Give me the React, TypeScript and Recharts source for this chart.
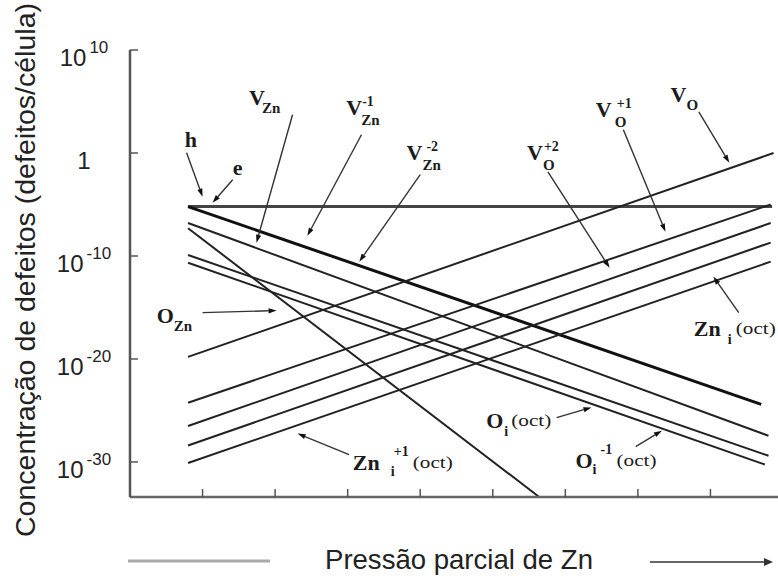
import { LineChart, Line, XAxis, YAxis, ReferenceLine, ReferenceDot } from "recharts";

// log10 of defect concentration (defects per cell) against Zn partial pressure (arbitrary units)
const holesElectrons = [{ x: 0.8, y: -5.2 }, { x: 8.85, y: -5.2 }];
const vZnCharged = [{ x: 0.8, y: -5.2 }, { x: 8.7, y: -24.4 }];
const vZn = [{ x: 0.8, y: -6.8 }, { x: 8.8, y: -27.45 }];
const oZn = [{ x: 0.8, y: -7.3 }, { x: 5.64, y: -33.4 }];
const oI = [{ x: 0.8, y: -9.9 }, { x: 8.8, y: -29.4 }];
const oIMinus1 = [{ x: 0.8, y: -10.65 }, { x: 8.75, y: -30.25 }];
const vO = [{ x: 0.8, y: -19.8 }, { x: 8.87, y: 0.0 }];
const vOPlus1 = [{ x: 0.8, y: -24.25 }, { x: 8.83, y: -5.0 }];
const vOPlus2 = [{ x: 0.8, y: -26.5 }, { x: 8.83, y: -6.8 }];
const znI = [{ x: 0.8, y: -28.4 }, { x: 8.83, y: -8.7 }];
const znIPlus1 = [{ x: 0.8, y: -30.1 }, { x: 8.83, y: -10.55 }];

const yTicks = [10, 0, -10, -20, -30];
const xTicks = [1, 2, 3, 4, 5, 6, 7, 8];

const series = [
  { key: "he", data: holesElectrons, stroke: "#444", width: 3 },
  { key: "vzn2", data: vZnCharged, stroke: "#111", width: 3 },
  { key: "vzn", data: vZn, stroke: "#222", width: 2 },
  { key: "ozn", data: oZn, stroke: "#222", width: 2 },
  { key: "oi", data: oI, stroke: "#222", width: 2 },
  { key: "oi1", data: oIMinus1, stroke: "#222", width: 2 },
  { key: "vo", data: vO, stroke: "#222", width: 2 },
  { key: "vo1", data: vOPlus1, stroke: "#222", width: 2 },
  { key: "vo2", data: vOPlus2, stroke: "#222", width: 2 },
  { key: "zni", data: znI, stroke: "#222", width: 2 },
  { key: "zni1", data: znIPlus1, stroke: "#222", width: 2 },
];

// defect labels: left/baseline anchor in data units, offsets in px
const tags = [
  { x: 0.755, y: 0.61, main: "h" },
  { x: 1.415, y: -2.1, main: "e" },
  { x: 1.64, y: 4.69, main: "V", sub: "Zn", subDx: 13 },
  { x: 2.98, y: 3.71, main: "V", sup: "-1", sub: "Zn", subDx: 15, supDx: 16 },
  { x: 3.81, y: -0.65, main: "V", sup: "-2", sub: "Zn", subDx: 16, supDx: 20 },
  { x: 5.47, y: -0.65, main: "V", sup: "+2", sub: "O", subDx: 16, supDx: 17 },
  { x: 6.42, y: 3.52, main: "V", sup: "+1", sub: "O", subDx: 19, supDx: 21 },
  { x: 7.45, y: 4.98, main: "V", sub: "O", subDx: 16 },
  { x: 0.367, y: -16.5, main: "O", sub: "Zn", subDx: 17 },
  { x: 3.07, y: -30.75, main: "Zn", sub: "i", sup: "+1", tail: "(oct)", subDx: 38, supDx: 41, tailDx: 60 },
  { x: 7.77, y: -17.8, main: "Zn", sub: "i", tail: "(oct)", subDx: 34, tailDx: 42 },
  { x: 4.91, y: -26.67, main: "O", sub: "i", tail: "(oct)", subDx: 18, tailDx: 25 },
  { x: 6.14, y: -30.55, main: "O", sub: "i", sup: "-1", tail: "(oct)", subDx: 17, supDx: 25, tailDx: 41 },
];

const pointers = [
  { from: { x: 0.78, y: 0.03 }, to: { x: 1.0, y: -4.24 } },
  { from: { x: 1.415, y: -2.59 }, to: { x: 1.138, y: -4.83 } },
  { from: { x: 2.24, y: 3.71 }, to: { x: 1.743, y: -8.71 } },
  { from: { x: 3.19, y: 1.77 }, to: { x: 2.445, y: -8.04 } },
  { from: { x: 4.0, y: -2.1 }, to: { x: 3.16, y: -10.55 } },
  { from: { x: 5.76, y: -1.83 }, to: { x: 6.61, y: -11.14 } },
  { from: { x: 6.8, y: 2.26 }, to: { x: 7.38, y: -7.64 } },
  { from: { x: 7.84, y: 4.0 }, to: { x: 8.26, y: -0.94 } },
  { from: { x: 1.0, y: -15.5 }, to: { x: 2.02, y: -15.3 } },
  { from: { x: 3.02, y: -29.28 }, to: { x: 2.31, y: -27.24 } },
  { from: { x: 8.39, y: -15.5 }, to: { x: 8.04, y: -12.0 } },
  { from: { x: 5.88, y: -25.7 }, to: { x: 6.36, y: -24.7 } },
  { from: { x: 6.97, y: -28.5 }, to: { x: 7.33, y: -26.96 } },
];

const SANS = "'Liberation Sans', Arial, sans-serif";
const SERIF = "'Liberation Serif', 'Times New Roman', serif";
const INK = "#1c1c1c";

function PowerTick(props: any) {
  const { x, y, payload } = props;
  const exp = payload.value as number;
  return (
    <g>
      <line x1={x} y1={y} x2={x + 8} y2={y} stroke="#555" strokeWidth={1.5} />
      <text x={x - 46} y={y + 16} textAnchor="middle" fontFamily={SANS} fontSize={24} fill="#222">
        {exp === 0 ? (
          "1"
        ) : (
          <>
            10
            <tspan dx={3} dy={-13} fontSize={17}>
              {exp}
            </tspan>
          </>
        )}
      </text>
    </g>
  );
}

function BottomTick(props: any) {
  const { x, y } = props;
  return <line x1={x} y1={y} x2={x} y2={y - 8} stroke="#555" strokeWidth={1.5} />;
}

function TopTick(props: any) {
  const { x, y } = props;
  return <line x1={x} y1={y} x2={x} y2={y + 8} stroke="#777" strokeWidth={1.5} />;
}

function PressureTitle(props: any) {
  const vb = props.viewBox || { x: 130, y: 497 };
  const base = vb.y + 72;
  const lineY = vb.y + 64;
  const ax = vb.x + 643;
  return (
    <g>
      <line x1={vb.x - 2} y1={lineY} x2={vb.x + 140} y2={lineY} stroke="#aaa" strokeWidth={3} />
      <text x={vb.x + 195} y={base} fontFamily={SANS} fontSize={28} fill="#222" textLength={268} lengthAdjust="spacingAndGlyphs">
        Pressão parcial de Zn
      </text>
      <line x1={vb.x + 520} y1={lineY + 1} x2={ax - 6} y2={lineY + 1} stroke="#666" strokeWidth={2} />
      <polygon points={`${ax},${lineY + 1} ${ax - 9},${lineY - 3} ${ax - 9},${lineY + 5}`} fill="#333" />
    </g>
  );
}

function ConcentrationTitle(props: any) {
  const vb = props.viewBox || { x: 0, y: 50 };
  const cx = vb.x + 35;
  const cy = vb.y + 220;
  return (
    <text
      x={cx}
      y={cy}
      transform={`rotate(-90, ${cx}, ${cy})`}
      textAnchor="middle"
      fontFamily={SANS}
      fontSize={28}
      fill="#222"
      textLength={534}
      lengthAdjust="spacingAndGlyphs"
    >
      Concentração de defeitos (defeitos/célula)
    </text>
  );
}

function DefectTag({ cx, cy, t }: any) {
  const bold = { fontFamily: SERIF, fontWeight: 700, fill: INK };
  const stacked = t.sub && t.sup;
  const iStack = stacked && t.sub === "i";
  const supY = iStack ? cy - 14 : stacked ? cy - 9 : cy - 11;
  const subY = iStack ? cy + 6 : stacked ? cy + 10 : cy + 8;
  return (
    <g>
      <text x={cx} y={cy} fontSize={22} {...bold}>
        {t.main}
      </text>
      {t.sup && (
        <text x={cx + t.supDx} y={supY} fontSize={14} {...bold}>
          {t.sup}
        </text>
      )}
      {t.sub && (
        <text x={cx + t.subDx} y={subY} fontSize={t.sub === "i" ? 14 : 15} {...bold}>
          {t.sub}
        </text>
      )}
      {t.tail && (
        <text
          x={cx + t.tailDx}
          y={cy - 2}
          fontSize={16}
          fontFamily={SERIF}
          fill={INK}
          textLength={40}
          lengthAdjust="spacingAndGlyphs"
        >
          {t.tail}
        </text>
      )}
    </g>
  );
}

function Pointer(props: any) {
  const { x1, y1, x2, y2 } = props;
  const dx = x2 - x1;
  const dy = y2 - y1;
  const len = Math.hypot(dx, dy) || 1;
  const ux = dx / len;
  const uy = dy / len;
  const bx = x2 - ux * 8;
  const by = y2 - uy * 8;
  const px = -uy * 2.6;
  const py = ux * 2.6;
  return (
    <g>
      <line x1={x1} y1={y1} x2={bx} y2={by} stroke="#333" strokeWidth={1.4} />
      <polygon points={`${x2},${y2} ${bx + px},${by + py} ${bx - px},${by - py}`} fill="#111" />
    </g>
  );
}

export default function App() {
  return (
    <div
      style={{
        position: "absolute",
        left: 0,
        top: 0,
        width: 778,
        height: 580,
        overflow: "hidden",
        background: "#fff",
      }}
    >
      <LineChart width={790} height={580} margin={{ top: 50, right: 7, bottom: 0, left: 0 }}>
        <XAxis
          type="number"
          dataKey="x"
          domain={[0, 9]}
          ticks={xTicks}
          height={83}
          tickSize={0}
          tickMargin={0}
          tick={<BottomTick />}
          tickLine={false}
          axisLine={{ stroke: "#666", strokeWidth: 2.5 }}
          label={<PressureTitle />}
        />
        <XAxis
          xAxisId="top"
          orientation="top"
          type="number"
          dataKey="x"
          domain={[0, 9]}
          ticks={xTicks}
          height={0}
          tickSize={0}
          tickMargin={0}
          tick={<TopTick />}
          tickLine={false}
          axisLine={{ stroke: "#888", strokeWidth: 2.5 }}
        />
        <YAxis
          type="number"
          domain={[-33.4, 10]}
          ticks={yTicks}
          width={130}
          tickSize={0}
          tickMargin={0}
          tick={<PowerTick />}
          tickLine={false}
          allowDataOverflow
          axisLine={{ stroke: "#555", strokeWidth: 2.5 }}
          label={<ConcentrationTitle />}
        />
        {series.map((s) => (
          <Line
            key={s.key}
            data={s.data}
            dataKey="y"
            type="linear"
            stroke={s.stroke}
            strokeWidth={s.width}
            dot={false}
            activeDot={false}
            isAnimationActive={false}
          />
        ))}
        {pointers.map((p, i) => (
          <ReferenceLine key={`p${i}`} segment={[p.from, p.to]} shape={(props: any) => <Pointer {...props} />} />
        ))}
        {tags.map((t, i) => (
          <ReferenceDot key={`t${i}`} x={t.x} y={t.y} r={0} shape={(props: any) => <DefectTag {...props} t={t} />} />
        ))}
      </LineChart>
    </div>
  );
}
